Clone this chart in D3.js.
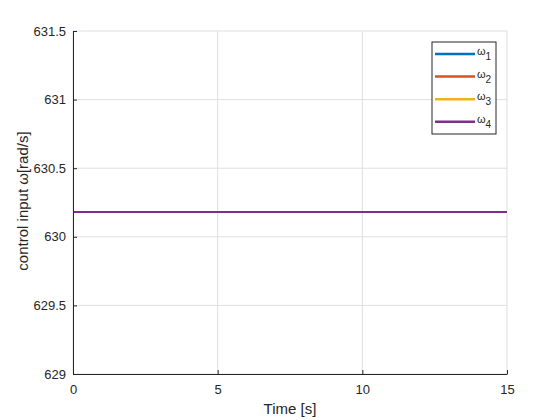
<!DOCTYPE html>
<html>
<head>
<meta charset="utf-8">
<script src="https://cdn.jsdelivr.net/npm/d3@7"></script>
<style>
body{margin:0;background:#fff;}
text{font-family:"Liberation Sans",Arial,sans-serif;}
</style>
</head>
<body>
<svg id="svg" width="560" height="420"></svg>
<script>
// data
var time = [0, 15];
var seriesNames = ["1", "2", "3", "4"];
var omega1 = [630.18, 630.18];
var omega2 = [630.18, 630.18];
var omega3 = [630.18, 630.18];
var omega4 = [630.18, 630.18];
var xTicks = [0, 5, 10, 15];
var yTicks = [629, 629.5, 630, 630.5, 631, 631.5];

var colors = ["#0072BD", "#D95319", "#EDB120", "#7E2F8E"];
var allSeries = [omega1, omega2, omega3, omega4];

var svg = d3.select("#svg");
var mLeft = 73, mRight = 507, mTop = 31, mBottom = 374;

var x = d3.scaleLinear().domain([0, 15]).range([mLeft, mRight]);
var y = d3.scaleLinear().domain([629, 631.5]).range([mBottom, mTop]);

// grid
svg.append("g").selectAll("line").data(xTicks).enter().append("line")
	.attr("x1", d => x(d)).attr("x2", d => x(d))
	.attr("y1", mTop).attr("y2", mBottom)
	.attr("stroke", "#dfdfdf").attr("stroke-width", 1);
svg.append("g").selectAll("line").data(yTicks).enter().append("line")
	.attr("x1", mLeft).attr("x2", mRight)
	.attr("y1", d => y(d)).attr("y2", d => y(d))
	.attr("stroke", "#dfdfdf").attr("stroke-width", 1);

// lines
var line = d3.line().x((d, i) => x(time[i])).y(d => y(d));
svg.append("g").selectAll("path").data(allSeries).enter().append("path")
	.attr("d", line)
	.attr("fill", "none")
	.attr("stroke", (d, i) => colors[i])
	.attr("stroke-width", 2);

// axes (ticks inward like matlab)
var xAxis = d3.axisBottom(x).tickValues(xTicks).tickSizeInner(-4).tickSizeOuter(0).tickPadding(11);
var yAxis = d3.axisLeft(y).tickValues(yTicks).tickSizeInner(-4).tickSizeOuter(0).tickPadding(7)
	.tickFormat(d3.format(""));
var gx = svg.append("g").attr("transform", "translate(0," + mBottom + ")").call(xAxis);
var gy = svg.append("g").attr("transform", "translate(" + mLeft + ",0)").call(yAxis);
[gx, gy].forEach(g => {
	g.select(".domain").attr("stroke", "#262626");
	g.selectAll(".tick line").attr("stroke", "#262626");
	g.selectAll(".tick text").attr("fill", "#262626").style("font-size", "13px")
		.style("font-family", "'Liberation Sans',Arial,sans-serif");
});

// axis labels
svg.append("text").attr("x", (mLeft + mRight) / 2).attr("y", 414)
	.attr("text-anchor", "middle").attr("fill", "#262626").style("font-size", "15px")
	.text("Time [s]");
svg.append("text").attr("transform", "translate(28,201) rotate(-90)")
	.attr("text-anchor", "middle").attr("fill", "#262626").style("font-size", "15px")
	.text("control input ω[rad/s]");

// legend
var lg = svg.append("g");
lg.append("rect").attr("x", 432).attr("y", 42).attr("width", 64).attr("height", 92)
	.attr("fill", "#fff").attr("stroke", "#262626").attr("stroke-width", 1);
var ent = lg.selectAll("g.ent").data(seriesNames).enter().append("g")
	.attr("transform", (d, i) => "translate(0," + (54 + i * 22.6) + ")");
ent.append("line").attr("x1", 435).attr("x2", 475).attr("y1", 0).attr("y2", 0)
	.attr("stroke", (d, i) => colors[i]).attr("stroke-width", 2.5);
var t = ent.append("text").attr("x", 477).attr("y", 1).attr("fill", "#262626").style("font-size", "11px");
t.append("tspan").text("ω");
t.append("tspan").attr("dy", 5).style("font-size", "10px").text(d => d);
</script>
</body>
</html>
